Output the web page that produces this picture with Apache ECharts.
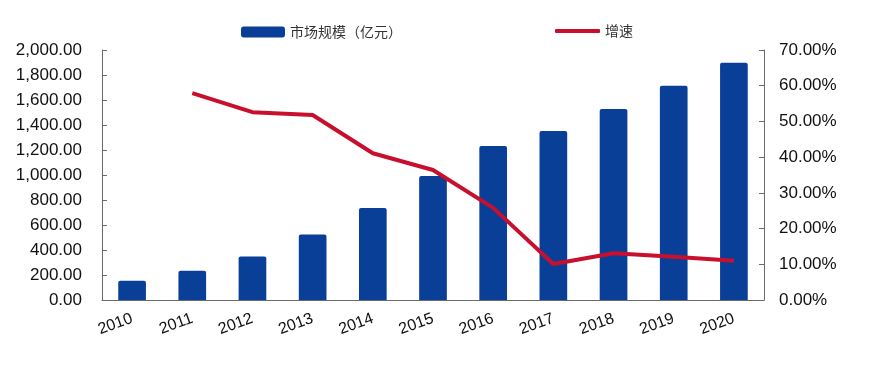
<!DOCTYPE html>
<html><head><meta charset="utf-8">
<script src="https://cdn.jsdelivr.net/npm/echarts@6/dist/echarts.min.js"></script>
<style>html,body{margin:0;padding:0;background:#fff}#c{width:880px;height:365px}</style>
</head><body><div id="c"></div>
<script>
const categories = ['2010','2011','2012','2013','2014','2015','2016','2017','2018','2019','2020'];
const marketSize = [155, 234, 349, 525, 736, 992, 1232, 1352, 1528, 1714, 1898];
const growth = [null, 57.9, 52.6, 51.8, 41.1, 36.4, 25.8, 10.1, 13.1, 12.1, 11.0];
const seriesNames = ['市场规模（亿元）', '增速'];
const leftTicks = {min: 0, max: 2000, interval: 200};
const rightTicks = {min: 0, max: 70, interval: 10};

const chart = echarts.init(document.getElementById('c'));
const font = 'Liberation Sans, Arial, sans-serif';
const axisColor = '#6b6b6b';
const legendText = {fontSize: 14, color: '#333', fontFamily: 'Noto Sans CJK SC'};
chart.setOption({
  animation: false,
  legend: [
    {data: [{name: seriesNames[0], icon: 'roundRect'}], left: 236, top: 20, itemWidth: 44, itemHeight: 11, itemGap: 4,
     textStyle: legendText},
    {data: [{name: seriesNames[1], icon: 'roundRect'}], left: 550, top: 19, itemWidth: 45, itemHeight: 4,
     textStyle: legendText}
  ],
  grid: {left: 102, right: 116, top: 50, bottom: 65, containLabel: false},
  xAxis: {
    type: 'category', data: categories,
    axisLine: {lineStyle: {color: axisColor, width: 1}},
    axisTick: {inside: true, length: 4, lineStyle: {color: axisColor}},
    axisLabel: {rotate: 20, margin: 18, fontSize: 16, color: '#111', fontFamily: font}
  },
  yAxis: [
    {type: 'value', min: leftTicks.min, max: leftTicks.max, interval: leftTicks.interval,
     splitLine: {show: false},
     axisLine: {show: true, lineStyle: {color: axisColor}},
     axisTick: {show: true, inside: true, length: 5, lineStyle: {color: axisColor}},
     axisLabel: {fontSize: 17, color: '#111', fontFamily: font, margin: 20,
       formatter: v => v.toLocaleString('en-US', {minimumFractionDigits: 2, maximumFractionDigits: 2})}},
    {type: 'value', min: rightTicks.min, max: rightTicks.max, interval: rightTicks.interval,
     splitLine: {show: false},
     axisLine: {show: true, lineStyle: {color: axisColor}},
     axisTick: {show: true, inside: true, length: 5, lineStyle: {color: axisColor}},
     axisLabel: {fontSize: 17, color: '#111', fontFamily: font, margin: 15,
       formatter: v => v.toFixed(2) + '%'}}
  ],
  series: [
    {name: seriesNames[0], type: 'bar', data: marketSize, barWidth: '46%',
     itemStyle: {color: '#0a3f98', borderRadius: [2, 2, 0, 0]}},
    {name: seriesNames[1], type: 'line', yAxisIndex: 1, data: growth, showSymbol: false, symbol: 'none',
     connectNulls: false,
     lineStyle: {color: '#c8102e', width: 4}, itemStyle: {color: '#c8102e'}}
  ]
});
</script></body></html>
